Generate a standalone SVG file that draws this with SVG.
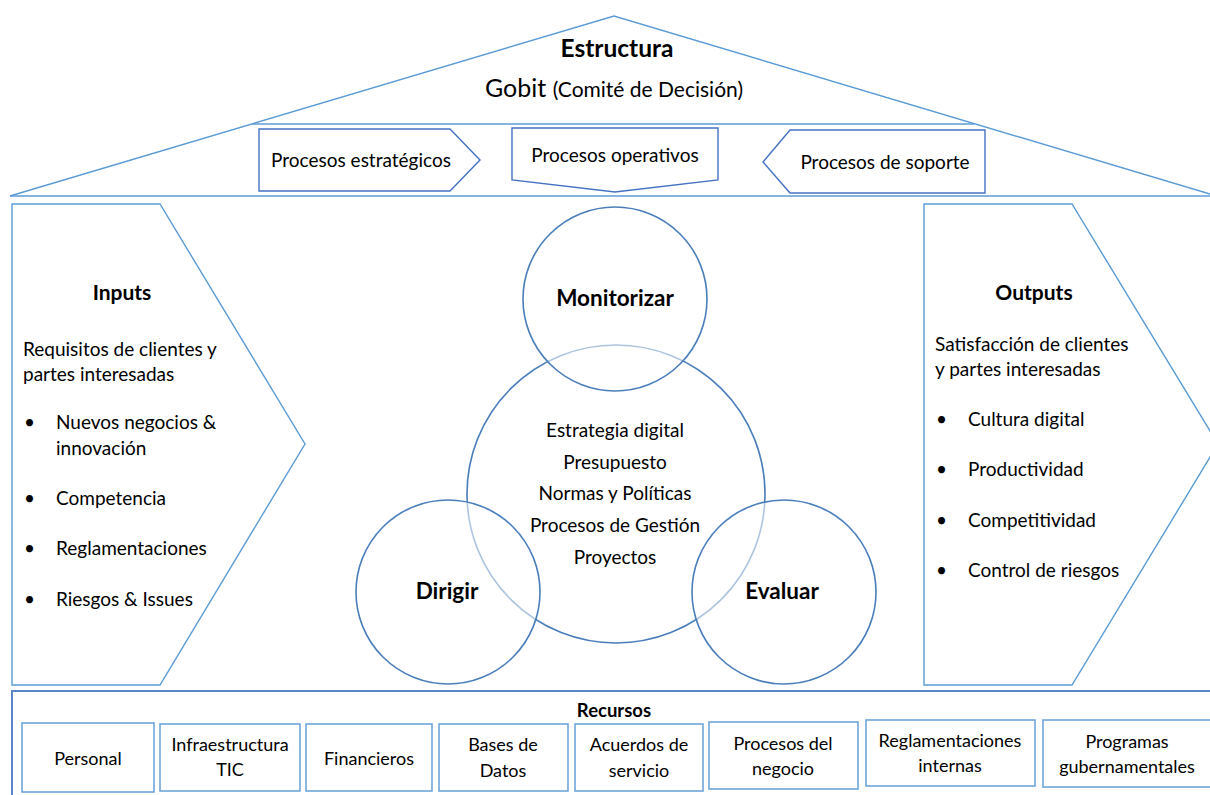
<svg xmlns="http://www.w3.org/2000/svg" width="1210" height="795" viewBox="0 0 1210 795">
  <style>
    text { font-family: Lato, "Open Sans", "Liberation Sans", sans-serif; fill: #000; }
    .ln { fill: none; stroke: #5B9BD5; stroke-width: 1.4; }
    .tab { fill: #fff; stroke: #4472C4; stroke-width: 1.4; }
    .box { fill: #fff; stroke: #6FA6DC; stroke-width: 1.6; }
    .frame { fill: #fff; stroke: #5A86C8; stroke-width: 2; }
    .cir { fill: none; stroke: #4A7EBB; stroke-width: 1.6; }
    .cirf { fill: #fff; fill-opacity: 0.55; stroke: #4A7EBB; stroke-width: 1.6; }
    .t { font-size: 19px; }
    .s { font-size: 18px; }
    .b { font-weight: bold; }
    .c { text-anchor: middle; }
  </style>

  <rect x="0" y="0" width="1210" height="795" fill="#fff"/>

  <!-- roof -->
  <g id="roof">
    <polyline class="ln" points="10,196 614,16 1210,194"/>
    <line class="ln" x1="252" y1="124" x2="974" y2="124"/>
    <line class="ln" x1="10" y1="196" x2="1210" y2="196"/>
    <text class="b c" x="617" y="57" font-size="24.5">Estructura</text>
    <text class="c" x="614" y="97"><tspan font-size="25">Gobit </tspan><tspan font-size="21">(Comité de Decisión)</tspan></text>
  </g>

  <g id="proc-estrategicos">
    <polygon class="tab" points="259,129 450,129 480,160 450,191 259,191"/>
    <text class="t c" x="361" y="167">Procesos estratégicos</text>
  </g>
  <g id="proc-operativos">
    <polygon class="tab" points="512,128 718,128 718,180 615,192 512,180"/>
    <text class="t c" x="615" y="162">Procesos operativos</text>
  </g>
  <g id="proc-soporte">
    <polygon class="tab" points="790,130 985,130 985,193 790,193 763,162"/>
    <text class="t c" x="885" y="169">Procesos de soporte</text>
  </g>

  <!-- inputs -->
  <g id="inputs">
    <polygon class="ln" points="12,204 160,204 305,444 160,685 12,685"/>
    <text class="b c" x="122" y="300" font-size="21">Inputs</text>
    <text class="t" x="23" y="356">Requisitos de clientes y</text>
    <text class="t" x="23" y="381">partes interesadas</text>
    <g class="t">
      <text x="24" y="429">•</text><text x="56" y="429">Nuevos negocios &amp;</text>
      <text x="56" y="455">innovación</text>
      <text x="24" y="505">•</text><text x="56" y="505">Competencia</text>
      <text x="24" y="555">•</text><text x="56" y="555">Reglamentaciones</text>
      <text x="24" y="606">•</text><text x="56" y="606">Riesgos &amp; Issues</text>
    </g>
  </g>

  <!-- outputs -->
  <g id="outputs">
    <polygon class="ln" points="924,204 1072,204 1218,444 1072,685 924,685"/>
    <text class="b c" x="1034" y="300" font-size="21">Outputs</text>
    <text class="t" x="935" y="351">Satisfacción de clientes</text>
    <text class="t" x="935" y="376">y partes interesadas</text>
    <g class="t">
      <text x="936" y="426">•</text><text x="968" y="426">Cultura digital</text>
      <text x="936" y="476">•</text><text x="968" y="476">Productividad</text>
      <text x="936" y="527">•</text><text x="968" y="527">Competitividad</text>
      <text x="936" y="577">•</text><text x="968" y="577">Control de riesgos</text>
    </g>
  </g>

  <!-- governance circles -->
  <g id="nucleo">
    <circle class="cir" cx="616" cy="494" r="149"/>
  </g>
  <g id="monitorizar">
    <circle class="cirf" cx="615" cy="299" r="92"/>
    <text class="b c" x="615" y="306" font-size="22.5">Monitorizar</text>
  </g>
  <g id="dirigir">
    <circle class="cirf" cx="448" cy="592" r="92"/>
    <text class="b c" x="447" y="599" font-size="22.5">Dirigir</text>
  </g>
  <g id="evaluar">
    <circle class="cirf" cx="784" cy="592" r="92"/>
    <text class="b c" x="782" y="599" font-size="22.5">Evaluar</text>
  </g>
  <g id="nucleo-texto" class="t c">
    <text x="615" y="437">Estrategia digital</text>
    <text x="615" y="469">Presupuesto</text>
    <text x="615" y="500">Normas y Políticas</text>
    <text x="615" y="532">Procesos de Gestión</text>
    <text x="615" y="564">Proyectos</text>
  </g>

  <!-- resources -->
  <g id="recursos">
    <rect class="frame" x="12" y="691" width="1210" height="120"/>
    <text class="b c" x="614" y="717" font-size="18.5">Recursos</text>
  </g>
  <g id="r-personal">
    <rect class="box" x="22" y="723" width="132" height="69"/>
    <text class="s c" x="88" y="765">Personal</text>
  </g>
  <g id="r-infra">
    <rect class="box" x="160" y="724" width="140" height="67"/>
    <text class="s c" x="230" y="751">Infraestructura</text>
    <text class="s c" x="230" y="776">TIC</text>
  </g>
  <g id="r-financieros">
    <rect class="box" x="306" y="724" width="126" height="67"/>
    <text class="s c" x="369" y="765">Financieros</text>
  </g>
  <g id="r-bases">
    <rect class="box" x="439" y="724" width="129" height="67"/>
    <text class="s c" x="503" y="751">Bases de</text>
    <text class="s c" x="503" y="777">Datos</text>
  </g>
  <g id="r-acuerdos">
    <rect class="box" x="575" y="724" width="128" height="67"/>
    <text class="s c" x="639" y="751">Acuerdos de</text>
    <text class="s c" x="639" y="777">servicio</text>
  </g>
  <g id="r-procesos">
    <rect class="box" x="709" y="722" width="149" height="67"/>
    <text class="s c" x="783" y="750">Procesos del</text>
    <text class="s c" x="783" y="775">negocio</text>
  </g>
  <g id="r-reglamentaciones">
    <rect class="box" x="866" y="720" width="169" height="66"/>
    <text class="s c" x="950" y="747">Reglamentaciones</text>
    <text class="s c" x="950" y="772">internas</text>
  </g>
  <g id="r-programas">
    <rect class="box" x="1043" y="720" width="180" height="67"/>
    <text class="s c" x="1127" y="748">Programas</text>
    <text class="s c" x="1127" y="773">gubernamentales</text>
  </g>
</svg>
